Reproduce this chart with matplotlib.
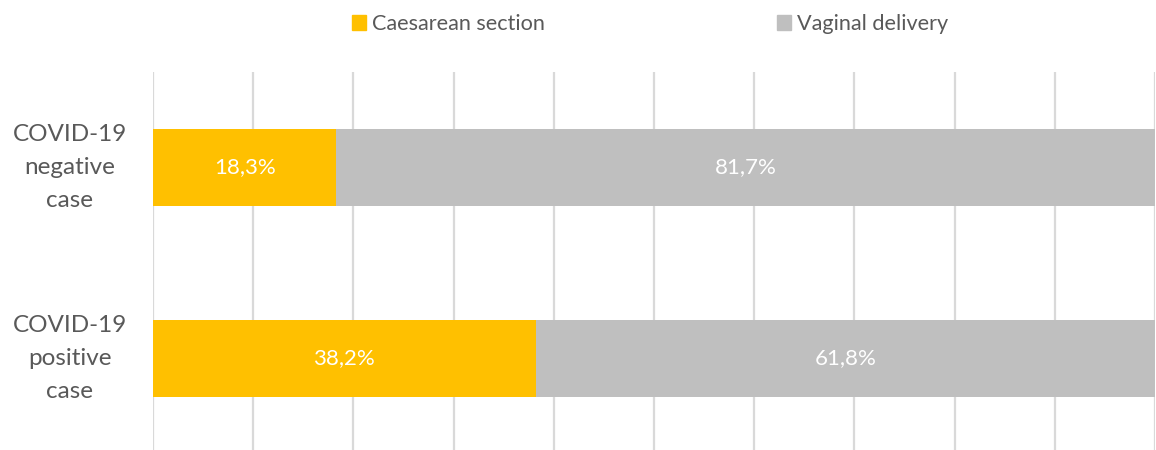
import matplotlib
matplotlib.use("Agg")
import matplotlib.pyplot as plt
from matplotlib.patches import Patch

categories = ["COVID-19\nnegative\ncase", "COVID-19\npositive\ncase"]
caesarean = [18.3, 38.2]
vaginal = [81.7, 61.8]
series_names = ["Caesarean section", "Vaginal delivery"]
colors = ["#FFC000", "#BFBFBF"]

plt.rcParams['font.family'] = ['Lato', 'DejaVu Sans']

fig = plt.figure(figsize=(11.56, 4.5), dpi=100)
ax = fig.add_axes([153/1156, 0, 1002/1156, 1 - 72/450])

y = list(range(len(categories)))
b1 = ax.barh(y, caesarean, height=0.4, color=colors[0], zorder=3)
b2 = ax.barh(y, vaginal, left=caesarean, height=0.4, color=colors[1], zorder=3)

for vals, lefts in [(caesarean, [0]*len(caesarean)), (vaginal, caesarean)]:
    for yi, v, l in zip(y, vals, lefts):
        ax.text(l + v/2, yi, f"{v:.1f}%".replace(".", ","), ha="center", va="center",
                color="white", fontsize=16, zorder=4)

ax.set_xlim(0, 100)
ax.set_ylim(1.48, -0.5)
ax.set_xticks(range(0, 101, 10))
ax.set_xticklabels([])
ax.tick_params(axis="x", length=0)
ax.grid(axis="x", color="#D9D9D9", linewidth=1.6, zorder=0)
ax.set_yticks(y)
ax.set_yticklabels(categories, fontsize=17.5, color="#595959", linespacing=1.72,
                   ha="center", va="center")
ax.tick_params(axis="y", length=0, pad=60)
for s in ax.spines.values():
    s.set_visible(False)

handles = [Patch(color=c) for c in colors]
fig.legend(handles, series_names, loc="center", bbox_to_anchor=(650/1156, 1 - 24/450),
           ncol=2, frameon=False, fontsize=15.6, labelcolor="#595959",
           handlelength=0.65, handleheight=0.65, handletextpad=0.3, columnspacing=10.7)

fig.savefig("out.png", dpi=100)
